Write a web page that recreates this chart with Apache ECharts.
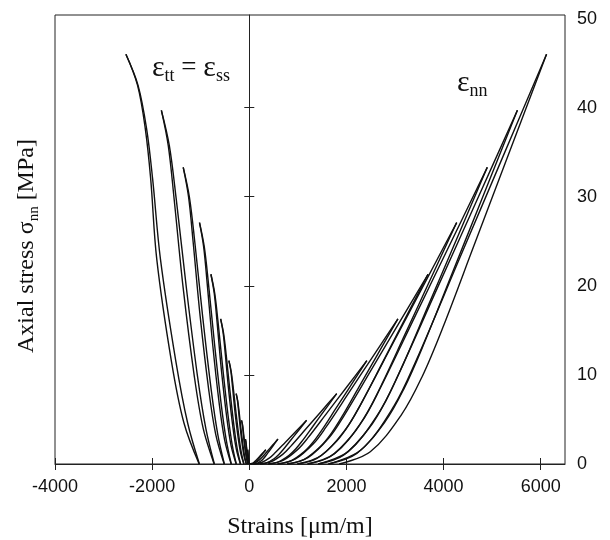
<!DOCTYPE html>
<html><head><meta charset="utf-8">
<script src="https://cdn.jsdelivr.net/npm/echarts@6/dist/echarts.min.js"></script>
<style>html,body{margin:0;padding:0;background:#fff}#c{width:610px;height:540px}</style>
</head><body><div id="c"></div>
<script>
// Tick values
const strainTicks = [-4000, -2000, 0, 2000, 4000, 6000];
const stressTicks = [0, 10, 20, 30, 40, 50];
const zeroLineTicks = [10, 20, 30, 40];

// Axial strain ε_nn: reloading branches (strain µm/m, stress MPa)
const nnLoading = [
  [[0,0],[51,0.06],[102,0.23],[136,0.4],[204,0.8],[272,1.2],[340,1.6]],
  [[30,0],[114,0.1],[198,0.39],[254,0.7],[366,1.4],[478,2.1],[590,2.8]],
  [[90,0],[254,0.17],[417,0.69],[526,1.23],[744,2.45],[962,3.68],[1180,4.9]],
  [[220,0],[457,0.28],[694,1.11],[852,1.98],[1168,3.95],[1484,5.93],[1800,7.9]],
  [[390,0],[695,0.41],[999,1.64],[1202,2.9],[1608,5.8],[2014,8.7],[2420,11.6]],
  [[580,0],[952,0.57],[1324,2.3],[1572,4.08],[2068,8.15],[2564,12.23],[3060,16.3]],
  [[780,0],[1215,0.75],[1650,3.0],[1940,5.33],[2520,10.65],[3100,15.98],[3680,21.3]],
  [[990,0],[1482,0.95],[1974,3.82],[2302,6.78],[2958,13.55],[3614,20.33],[4270,27.1]],
  [[1200,0],[1755,1.17],[2310,4.7],[2680,8.33],[3420,16.65],[4160,24.98],[4900,33.3]],
  [[1420,0],[2035,1.39],[2650,5.6],[3060,9.93],[3880,19.85],[4700,29.78],[5520,39.7]],
  [[1630,0],[2304,1.61],[2977,6.49],[3426,11.5],[4324,23],[5222,34.5],[6120,46]]
];
// Axial strain ε_nn: unloading branches
const nnUnloading = [
  [[340,1.6],[278,1.17],[232,0.85],[185,0.53],[154,0.34],[123,0.19],[77,0.05],[30,0]],
  [[590,2.8],[490,2.05],[415,1.49],[340,0.93],[290,0.6],[240,0.34],[165,0.08],[90,0]],
  [[1180,4.9],[988,3.59],[844,2.61],[700,1.63],[604,1.04],[508,0.59],[364,0.15],[220,0]],
  [[1800,7.9],[1518,5.79],[1307,4.21],[1095,2.63],[954,1.68],[813,0.95],[602,0.24],[390,0]],
  [[2420,11.6],[2052,8.5],[1776,6.18],[1500,3.86],[1316,2.47],[1132,1.39],[856,0.35],[580,0]],
  [[3060,16.3],[2604,11.95],[2262,8.69],[1920,5.43],[1692,3.47],[1464,1.96],[1122,0.49],[780,0]],
  [[3680,21.3],[3142,15.61],[2739,11.35],[2335,7.09],[2066,4.54],[1797,2.56],[1394,0.64],[990,0]],
  [[4270,27.1],[3656,19.86],[3196,14.44],[2735,9.02],[2428,5.77],[2121,3.25],[1661,0.81],[1200,0]],
  [[4900,33.3],[4204,24.41],[3682,17.75],[3160,11.09],[2812,7.09],[2464,4.0],[1942,1.0],[1420,0]],
  [[5520,39.7],[4742,29.1],[4159,21.16],[3575,13.22],[3186,8.46],[2797,4.76],[2214,1.19],[1630,0]],
  [[6120,46],[5266,33.72],[4626,24.52],[3985,15.32],[3558,9.8],[3131,5.52],[2491,1.38],[1850,0]]
];
// Transverse strains ε_tt = ε_ss: loading branches
const ttLoading = [
  [[0,0],[-6,0.16],[-11,0.4],[-19,0.8],[-25,1.2],[-30,1.44],[-35,1.6]],
  [[-10,0],[-21,0.28],[-32,0.7],[-47,1.4],[-60,2.1],[-70,2.52],[-80,2.8]],
  [[-25,0],[-47,0.49],[-68,1.23],[-97,2.45],[-122,3.68],[-140,4.41],[-160,4.9]],
  [[-60,0],[-94,0.79],[-127,1.98],[-171,3.95],[-211,5.93],[-239,7.11],[-270,7.9]],
  [[-110,0],[-160,1.16],[-209,2.9],[-274,5.8],[-333,8.7],[-374,10.44],[-420,11.6]],
  [[-180,0],[-246,1.63],[-311,4.08],[-397,8.15],[-475,12.23],[-529,14.67],[-590,16.3]],
  [[-267,0],[-351,2.13],[-434,5.33],[-544,10.65],[-644,15.98],[-712,19.17],[-790,21.3]],
  [[-370,0],[-475,2.71],[-580,6.78],[-717,13.55],[-842,20.33],[-927,24.39],[-1025,27.1]],
  [[-513,0],[-649,3.33],[-784,8.33],[-962,16.65],[-1123,24.98],[-1233,29.97],[-1360,33.3]],
  [[-719,0],[-894,3.97],[-1068,9.93],[-1297,19.85],[-1505,29.78],[-1646,35.73],[-1810,39.7]],
  [[-1027,0],[-1269,4.6],[-1511,11.5],[-1829,23],[-1990,32],[-2113,37.6],[-2290,42.5],[-2540,46]]
];
// Transverse strains ε_tt = ε_ss: unloading branches
const ttUnloading = [
  [[-35,1.6],[-30,1.44],[-27,1.2],[-21,0.8],[-13,0.4],[-7,0.16],[-2,0]],
  [[-80,2.8],[-71,2.52],[-63,2.1],[-51,1.4],[-37,0.7],[-25,0.28],[-12,0]],
  [[-160,4.9],[-142,4.41],[-128,3.68],[-105,2.45],[-76,1.23],[-53,0.49],[-28,0]],
  [[-270,7.9],[-243,7.11],[-220,5.93],[-184,3.95],[-140,1.98],[-104,0.79],[-62,0]],
  [[-420,11.6],[-380,10.44],[-346,8.7],[-293,5.8],[-228,2.9],[-175,1.16],[-112,0]],
  [[-590,16.3],[-537,14.67],[-492,12.23],[-422,8.15],[-336,4.08],[-266,1.63],[-183,0]],
  [[-790,21.3],[-722,19.17],[-664,15.98],[-576,10.65],[-466,5.33],[-377,2.13],[-270,0]],
  [[-1025,27.1],[-940,24.39],[-868,20.33],[-756,13.55],[-619,6.78],[-508,2.71],[-373,0]],
  [[-1360,33.3],[-1250,29.97],[-1157,24.98],[-1013,16.65],[-835,8.33],[-691,3.33],[-517,0]],
  [[-1810,39.7],[-1668,35.73],[-1548,29.78],[-1363,19.85],[-1134,9.93],[-948,3.97],[-723,0]],
  [[-2540,46],[-2300,42.5],[-2140,37.6],[-2030,32],[-1905,23],[-1602,11.5],[-1345,4.6],[-1032,0]]
];

const serif = '"Liberation Serif","Times New Roman",serif';
const sans = '"Liberation Sans",Arial,sans-serif';
const ink = '#111';
const axisColor = '#222';

const chart = echarts.init(document.getElementById('c'), null, {renderer: 'canvas'});

const series = [];
const groups = [['nn load', nnLoading], ['nn unload', nnUnloading], ['tt load', ttLoading], ['tt unload', ttUnloading]];
groups.forEach(([nm, curves]) => {
  curves.forEach((pts, i) => {
    series.push({
      type: 'line', name: nm + ' ' + (i + 1), data: pts,
      xAxisIndex: 0, yAxisIndex: 0,
      showSymbol: false, symbol: 'none', smooth: 0.35,
      lineStyle: {color: ink, width: 1.4},
      silent: true, animation: false, z: 3
    });
  });
});

const titleRich = {
  b: {fontFamily: serif, fontSize: 24, lineHeight: 30, fill: ink, color: ink, verticalAlign: 'middle'},
  s: {fontFamily: serif, fontSize: 15, lineHeight: 15, fill: ink, color: ink, verticalAlign: 'bottom'}
};
const epsRich = {
  e: {fontFamily: serif, fontSize: 30, lineHeight: 34, fill: ink, color: ink, verticalAlign: 'middle'},
  m: {fontFamily: serif, fontSize: 27, lineHeight: 34, fill: ink, color: ink, verticalAlign: 'middle'},
  s: {fontFamily: serif, fontSize: 18, lineHeight: 18, fill: ink, color: ink, verticalAlign: 'bottom'}
};

chart.setOption({
  animation: false,
  backgroundColor: '#fff',
  grid: {left: 55, right: 45, top: 15, bottom: 76, show: true, borderColor: axisColor, borderWidth: 1,
         containLabel: false, outerBoundsMode: 'none'},
  xAxis: [
    {type: 'value', position: 'bottom', min: -4000, max: 6500, interval: 2000,
     axisLine: {show: true, onZero: false, lineStyle: {color: axisColor, width: 1}},
     axisTick: {show: true, length: 6, customValues: strainTicks, lineStyle: {color: axisColor, width: 1}},
     axisLabel: {show: true, customValues: strainTicks, formatter: v => String(v),
                 fontFamily: sans, fontSize: 18, color: ink, margin: 14},
     splitLine: {show: false}},
    {type: 'value', position: 'bottom', min: -4000, max: 6500, interval: 2000,
     axisLine: {show: false, onZero: false},
     axisTick: {show: true, inside: true, length: 6, customValues: strainTicks, lineStyle: {color: axisColor, width: 1}},
     axisLabel: {show: false}, splitLine: {show: false}}
  ],
  yAxis: [
    {type: 'value', position: 'right', min: 0, max: 50.4,
     axisLine: {show: false, onZero: false}, axisTick: {show: false},
     axisLabel: {show: true, customValues: stressTicks, formatter: v => String(v),
                 fontFamily: sans, fontSize: 18, color: ink, margin: 12},
     splitLine: {show: false}},
    {type: 'value', position: 'left', min: 0, max: 50.4,
     axisLine: {show: true, onZero: true, onZeroAxisIndex: 0, lineStyle: {color: axisColor, width: 1}},
     axisTick: {show: true, inside: true, length: 5, customValues: zeroLineTicks, lineStyle: {color: axisColor, width: 1}},
     axisLabel: {show: false}, splitLine: {show: false}},
    {type: 'value', position: 'left', min: 0, max: 50.4,
     axisLine: {show: false, onZero: true, onZeroAxisIndex: 0},
     axisTick: {show: true, inside: false, length: 5, customValues: zeroLineTicks, lineStyle: {color: axisColor, width: 1}},
     axisLabel: {show: false}, splitLine: {show: false}}
  ],
  graphic: [
    {type: 'text', x: 27, y: 246, rotation: Math.PI / 2, z: 10,
     style: {text: '{b|Axial stress σ}{s|nn}{b| [MPa]}', align: 'center', verticalAlign: 'middle', rich: titleRich, fill: ink}},
    {type: 'text', x: 300, y: 527, z: 10,
     style: {text: '{b|Strains [μm/m]}', align: 'center', verticalAlign: 'middle', rich: titleRich, fill: ink}},
    {type: 'text', x: 152, y: 68, z: 10,
     style: {text: '{e|ε}{s|tt}{m| = }{e|ε}{s|ss}', align: 'left', verticalAlign: 'middle', rich: epsRich, fill: ink}},
    {type: 'text', x: 457, y: 83, z: 10,
     style: {text: '{e|ε}{s|nn}', align: 'left', verticalAlign: 'middle', rich: epsRich, fill: ink}}
  ],
  series: series
});
</script>
</body></html>
